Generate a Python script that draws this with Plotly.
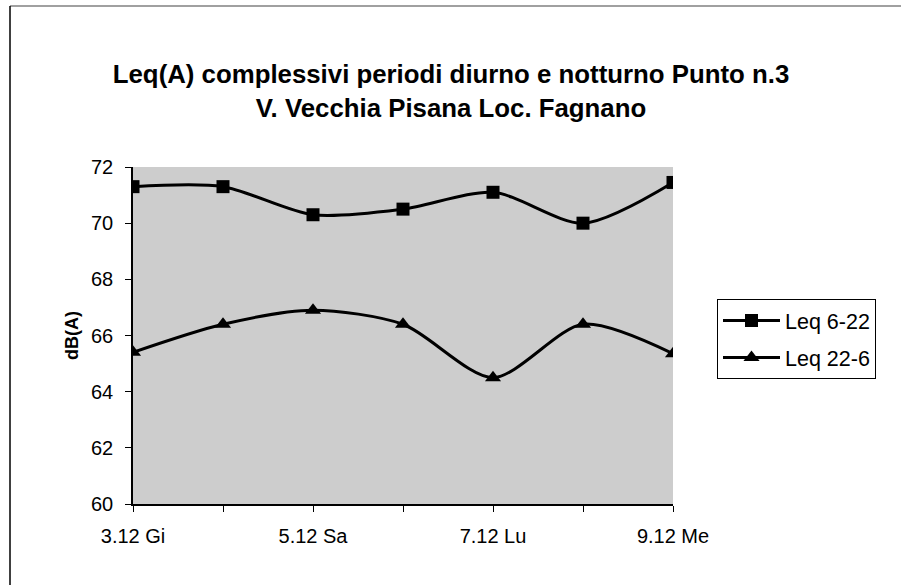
import plotly.graph_objects as go

categories = ["3.12 Gi", "4.12 Ve", "5.12 Sa", "6.12 Do", "7.12 Lu", "8.12 Ma", "9.12 Me"]
shown_labels = ["3.12 Gi", "", "5.12 Sa", "", "7.12 Lu", "", "9.12 Me"]
leq_6_22 = [71.3, 71.3, 70.3, 70.5, 71.1, 70.0, 71.45]
leq_22_6 = [65.4, 66.4, 66.9, 66.4, 64.5, 66.4, 65.35]
series_names = ["Leq 6-22", "Leq 22-6"]

FONT = "Liberation Sans, Arial, sans-serif"
xs = list(range(len(categories)))

fig = go.Figure()
fig.add_trace(go.Scatter(
    x=xs, y=leq_6_22, name=series_names[0], mode="lines+markers", legendgroup="a",
    line=dict(color="black", width=3, shape="spline", smoothing=0.8),
    marker=dict(symbol="square", size=13, color="black"),
))
fig.add_trace(go.Scatter(
    x=xs, y=leq_22_6, name=series_names[1], mode="lines+markers", legendgroup="b",
    line=dict(color="black", width=3, shape="spline", smoothing=0.8),
    marker=dict(symbol="triangle-up", size=14, color="black"),
))

L, R, T, B = 133, 901 - 673, 167, 81
W, H = 901, 585
pw, ph = W - L - R, H - T - B

def px2x(p):
    return (p - L) / pw

def py2y(p):
    return (H - B - p) / ph

fig.update_layout(
    width=W, height=H,
    margin=dict(l=L, r=R, t=T, b=B, pad=0),
    paper_bgcolor="white",
    plot_bgcolor="#cdcdcd",
    font=dict(family=FONT, size=20, color="black"),
    title=dict(
        text="<b>Leq(A) complessivi periodi diurno e notturno Punto n.3<br>V. Vecchia Pisana Loc. Fagnano</b>",
        x=px2x(451), xanchor="center", xref="paper",
        y=1 - 83 / H, yanchor="top",
        font=dict(family=FONT, size=25.8, color="black"),
    ),
    showlegend=True,
    legend=dict(
        x=px2x(717), y=py2y(299), xanchor="left", yanchor="top",
        xref="paper", yref="paper",
        bordercolor="black", borderwidth=1, bgcolor="white",
        font=dict(family=FONT, size=21.5, color="black"),
        tracegroupgap=6, traceorder="grouped", itemwidth=57,
    ),
    xaxis=dict(
        range=[0, len(categories) - 1],
        tickmode="array", tickvals=xs, ticktext=shown_labels,
        ticks="outside", ticklen=6, tickcolor="black", tickwidth=1,
        ticklabelstandoff=7,
        showline=True, linecolor="black", linewidth=1.5,
        showgrid=False, zeroline=False,
        tickfont=dict(family=FONT, size=20, color="black"),
    ),
    yaxis=dict(
        range=[60, 72], dtick=2, tick0=60,
        ticks="outside", ticklen=6, tickcolor="black", tickwidth=1,
        ticklabelstandoff=8,
        showline=True, linecolor="black", linewidth=1.5,
        showgrid=False, zeroline=False,
        title=dict(text="<b>dB(A)</b>", font=dict(family=FONT, size=18, color="black"), standoff=8),
        tickfont=dict(family=FONT, size=20, color="black"),
    ),
    shapes=[
        dict(type="line", xref="paper", yref="paper",
             x0=px2x(10), x1=px2x(901), y0=py2y(6), y1=py2y(6),
             line=dict(color="#a0a0a0", width=2)),
        dict(type="line", xref="paper", yref="paper",
             x0=px2x(10), x1=px2x(10), y0=py2y(6), y1=py2y(585),
             line=dict(color="black", width=1.5)),
    ],
)

fig.write_html(
    "out.html",
    config={"displayModeBar": False},
    post_script="document.body.style.margin='0';document.body.style.overflow='hidden';",
)
